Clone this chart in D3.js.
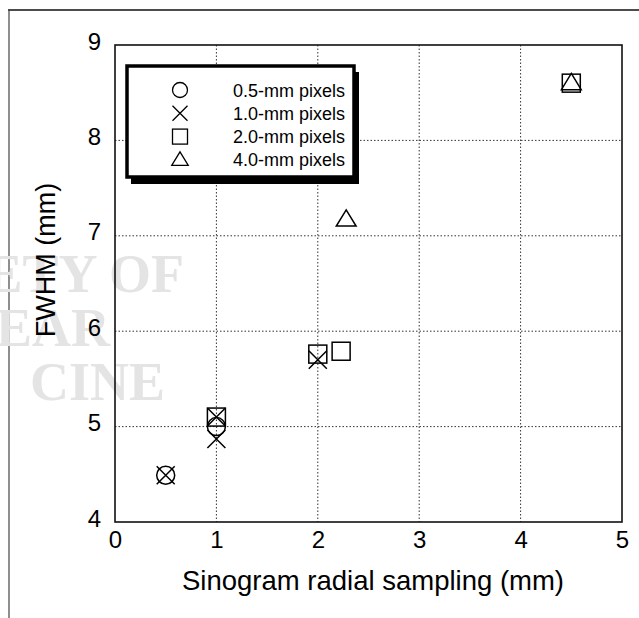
<!DOCTYPE html>
<html>
<head>
<meta charset="utf-8">
<script src="https://cdn.jsdelivr.net/npm/d3@7"></script>
<style>
	body { margin: 0; background: #fff; }
	svg { display: block; }
</style>
</head>
<body>
<div id="chart"></div>
<script>
// data
var seriesNames = ["0.5-mm pixels", "1.0-mm pixels", "2.0-mm pixels", "4.0-mm pixels"];
var seriesShapes = ["circle", "cross", "square", "triangle"];
var halfMm = [[0.5, 4.49], [1.0, 5.0]];
var oneMm = [[0.5, 4.49], [1.0, 5.1], [1.0, 4.87], [2.0, 5.7]];
var twoMm = [[1.0, 5.1], [2.0, 5.76], [2.23, 5.79], [4.5, 8.6]];
var fourMm = [[2.28, 7.17], [4.5, 8.6]];
var xTicks = [0, 1, 2, 3, 4, 5];
var yTicks = [4, 5, 6, 7, 8, 9];

var series = [halfMm, oneMm, twoMm, fourMm];

var sans = "'Liberation Sans', Arial, Helvetica, sans-serif";
var width = 639, height = 618;
var margin = {top: 45, right: 17, bottom: 96, left: 115};
var w = width - margin.left - margin.right,
	h = height - margin.top - margin.bottom;

var svg = d3.select("#chart").append("svg")
	.attr("width", width)
	.attr("height", height)
	.style("font-family", sans);

// outer frame (top + left only, like the scan)
svg.append("line").attr("x1", 8).attr("y1", 10).attr("x2", width).attr("y2", 10)
	.attr("stroke", "#111").attr("stroke-width", 1.5);
svg.append("line").attr("x1", 9).attr("y1", 10).attr("x2", 9).attr("y2", height)
	.attr("stroke", "#444").attr("stroke-width", 1.2);

// faint watermark from the scan
var wm = svg.append("g")
	.attr("fill", "#e4e4e4")
	.style("font-family", "'Liberation Serif', 'DejaVu Serif', serif")
	.style("font-weight", "bold")
	.style("font-size", "54px")
	.attr("text-anchor", "end");
wm.append("text").attr("x", 184).attr("y", 292).text("ETY OF");
wm.append("text").attr("x", 110).attr("y", 346).text("LEAR");
wm.append("text").attr("x", 165).attr("y", 400).text("CINE");

var g = svg.append("g")
	.attr("transform", "translate(" + margin.left + "," + margin.top + ")");

var x = d3.scaleLinear().domain([0, 5]).range([0, w]);
var y = d3.scaleLinear().domain([4, 9]).range([h, 0]);

// dotted grid
g.append("g").selectAll("line").data(xTicks.slice(1, -1)).enter().append("line")
	.attr("x1", function(d) { return x(d); }).attr("x2", function(d) { return x(d); })
	.attr("y1", 0).attr("y2", h)
	.attr("stroke", "#333").attr("stroke-width", 1).attr("stroke-dasharray", "1.5,2");
g.append("g").selectAll("line").data(yTicks.slice(1, -1)).enter().append("line")
	.attr("y1", function(d) { return y(d); }).attr("y2", function(d) { return y(d); })
	.attr("x1", 0).attr("x2", w)
	.attr("stroke", "#333").attr("stroke-width", 1).attr("stroke-dasharray", "1.5,2");

// plot frame
g.append("rect").attr("x", 0).attr("y", 0).attr("width", w).attr("height", h)
	.attr("fill", "none").attr("stroke", "#111").attr("stroke-width", 1.6);

// axes (labels only, no tick marks)
var xAxis = g.append("g").attr("transform", "translate(0," + h + ")")
	.call(d3.axisBottom(x).tickValues(xTicks).tickSize(0).tickPadding(9).tickFormat(d3.format("d")));
var yAxis = g.append("g")
	.call(d3.axisLeft(y).tickValues(yTicks).tickSize(0).tickPadding(14).tickFormat(d3.format("d")));
[xAxis, yAxis].forEach(function(a) {
	a.select(".domain").remove();
	a.selectAll("text").attr("fill", "#000")
		.style("font-size", "24px").style("font-family", sans);
});
yAxis.selectAll("text").attr("dy", "0.17em");

svg.append("text")
	.attr("x", 373).attr("y", 590)
	.attr("text-anchor", "middle").style("font-size", "27.5px")
	.text("Sinogram radial sampling (mm)");
svg.append("text")
	.attr("transform", "translate(55,260) rotate(-90)")
	.attr("text-anchor", "middle").style("font-size", "27px")
	.text("FWHM (mm)");

function drawMarker(sel, shape, s) {
	if (shape == "circle") {
		sel.append("circle").attr("r", s * 0.5);
	} else if (shape == "cross") {
		var r = s * 0.5;
		sel.append("path").attr("d", "M" + (-r) + "," + (-r) + "L" + r + "," + r + "M" + (-r) + "," + r + "L" + r + "," + (-r));
	} else if (shape == "square") {
		sel.append("rect").attr("x", -s / 2).attr("y", -s / 2).attr("width", s).attr("height", s);
	} else {
		var hw = s * 0.55, th = s * 0.9;
		sel.append("path").attr("d", "M0," + (-th * 0.6) + "L" + hw + "," + (th * 0.4) + "L" + (-hw) + "," + (th * 0.4) + "Z");
	}
}

series.forEach(function(pts, i) {
	g.append("g").selectAll("g").data(pts).enter().append("g")
		.attr("transform", function(d) { return "translate(" + x(d[0]) + "," + y(d[1]) + ")"; })
		.attr("fill", "none").attr("stroke", "#000").attr("stroke-width", 1.5)
		.each(function() { drawMarker(d3.select(this), seriesShapes[i], 18); });
});

// legend with drop shadow
var lg = svg.append("g").attr("transform", "translate(127,66)");
lg.append("rect").attr("x", 4).attr("y", 6).attr("width", 228).attr("height", 112).attr("fill", "#000");
lg.append("rect").attr("x", 0).attr("y", 0).attr("width", 227).attr("height", 111)
	.attr("fill", "#fff").attr("stroke", "#000").attr("stroke-width", 3.5);
var rows = lg.selectAll(".row").data(seriesNames).enter().append("g")
	.attr("class", "row")
	.attr("transform", function(d, i) { return "translate(0," + (24 + i * 23.3) + ")"; });
rows.each(function(d, i) {
	var m = d3.select(this).append("g").attr("transform", "translate(53,0)")
		.attr("fill", "none").attr("stroke", "#000").attr("stroke-width", 1.3);
	drawMarker(m, seriesShapes[i], 15);
});
rows.append("text").attr("x", 106).attr("y", 6.5).style("font-size", "18px").text(function(d) { return d; });
</script>
</body>
</html>
